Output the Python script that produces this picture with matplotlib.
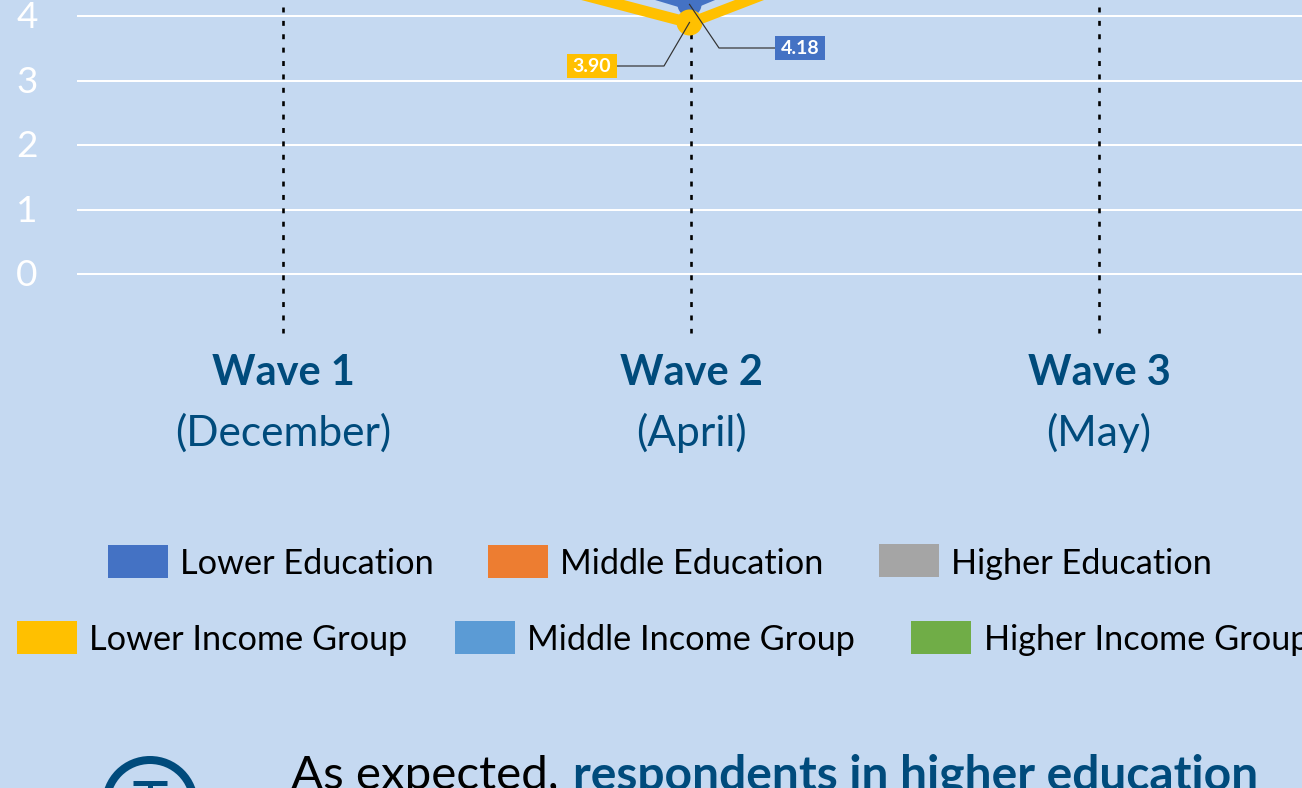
import matplotlib
matplotlib.use("Agg")
import matplotlib.pyplot as plt
from matplotlib.patches import Rectangle, Ellipse
import numpy as np

W, H = 1302, 788
BG = "#C5D9F1"
NAVY = "#004B7C"
FONT = ["Lato", "DejaVu Sans"]

waves = ["Wave 1", "Wave 2", "Wave 3"]
months = ["(December)", "(April)", "(May)"]
y_ticks = [0, 1, 2, 3, 4]
lower_income = [5.56, 3.90, 6.34]
lower_education = [6.08, 4.18, 6.82]
edu_legend = ["Lower Education", "Middle Education", "Higher Education"]
edu_colors = ["#4472C4", "#ED7D31", "#A5A5A5"]
inc_legend = ["Lower Income Group", "Middle Income Group", "Higher Income Group"]
inc_colors = ["#FFC000", "#5B9BD5", "#70AD47"]

plt.rcParams["font.family"] = FONT
fig = plt.figure(figsize=(W / 100, H / 100), dpi=100, facecolor=BG)
ax = fig.add_axes([0, 0, 1, 1])
ax.set_facecolor(BG)
ax.axis("off")
XS = 408.0
YS = 64.5
ax.set_xlim(-283 / XS, (W - 283) / XS)
ax.set_ylim((274 - H) / YS, 274 / YS)
fs = 72 / 100

def px(x, y):
    return (x - 283) / XS, (274 - y) / YS

for t in y_ticks:
    ax.plot([px(77, 0)[0], px(W, 0)[0]], [t, t], color="white", lw=2 * fs, solid_capstyle="butt", zorder=1)
    ax.text(px(27, 0)[0], t + 1.2 / YS, str(t), color="white", fontsize=37 * fs,
            ha="center", va="center_baseline")

for i in range(3):
    ax.plot([i, i], [px(0, 7)[1], px(0, 333)[1]], color="black", lw=2.6 * fs, ls=(0, (1.9, 3.25)),
            dash_capstyle="butt", zorder=2)
    ax.text(i, px(0, 373)[1], waves[i], color=NAVY, fontsize=41.5 * fs, fontweight="bold", ha="center", va="center")
    ax.text(i, px(0, 433)[1], months[i], color=NAVY, fontsize=42.5 * fs, ha="center", va="center")

xoff = -1.5 / XS
xi = [i + xoff for i in range(3)]

def series(values, color, half_px, marker_px, z):
    # filled band: a stroked line would be cut square at the top edge of the canvas
    v = np.array(values)
    ax.fill_between(xi, v - half_px / YS, v + half_px / YS, color=color, lw=0, zorder=z)
    ax.plot(xi, values, ls="none", color=color, marker="o", ms=marker_px * fs, mew=0, zorder=z)

series(lower_education, edu_colors[0], 5.6, 24, 3)
series(lower_income, inc_colors[0], 5.6, 26, 4)

def label(value, s_color, box_x0, box_y0, box_w, box_h, elbow_x, mark_x):
    yb = box_y0 + box_h / 2
    side = box_x0 + box_w if box_x0 < mark_x else box_x0
    x0, y0 = px(side, yb)
    x1, y1 = px(elbow_x, yb)
    ax.plot([x0, x1, 1 + (mark_x - 691) / XS], [y0, y1, value], color="#333333", lw=1.2 * fs, zorder=6)
    ax.add_patch(Rectangle(px(box_x0, box_y0 + box_h), box_w / XS, box_h / YS, fc=s_color, ec="none", zorder=6))
    cx, cy = px(box_x0 + box_w / 2, yb)
    ax.text(cx, cy, f"{value:.2f}", color="white", fontsize=19.5 * fs, fontweight="bold", ha="center", va="center", zorder=7)

label(lower_income[1], inc_colors[0], 567, 54, 50, 24, 664, 689.5)
label(lower_education[1], edu_colors[0], 775, 36, 50, 24, 719, 689.5)

def legend(entries, colors, boxes, texts, y0, tops, h=33):
    for e, c, bx, tx, dy in zip(entries, colors, boxes, texts, tops):
        ax.add_patch(Rectangle(px(bx, y0 + dy + h), 60 / XS, h / YS, fc=c, ec="none", zorder=5))
        ax.text(px(tx, 0)[0], px(0, y0 + dy + h / 2 + 3)[1], e, fontsize=34.3 * fs, color="black", ha="left", va="center")

legend(edu_legend, edu_colors, [108, 488, 879], [180, 560, 951], 545, [0, 0, -1])
legend(inc_legend, inc_colors, [17, 455, 911], [89, 527, 984], 621, [0, 0, 0])

ax.text(px(291, 0)[0], px(0, 789)[1], "As expected, ", fontsize=47.5 * fs, color="black", ha="left", va="baseline")
ax.text(px(573, 0)[0], px(0, 789)[1], "respondents in higher education", fontsize=48 * fs, color=NAVY,
        fontweight="bold", ha="left", va="baseline")

cc = px(150, 804)
ax.add_patch(Ellipse(cc, 88 / XS, 88 / YS, fc="none", ec=NAVY, lw=8 * fs, zorder=5))
ax.plot(*zip(px(133, 782.5), px(167, 782.5)), color=NAVY, lw=5 * fs, solid_capstyle="butt", zorder=5)
ax.plot(*zip(px(150, 782), px(150, 790)), color=NAVY, lw=5 * fs, solid_capstyle="butt", zorder=5)

fig.savefig("out.png", dpi=100, facecolor=BG)
